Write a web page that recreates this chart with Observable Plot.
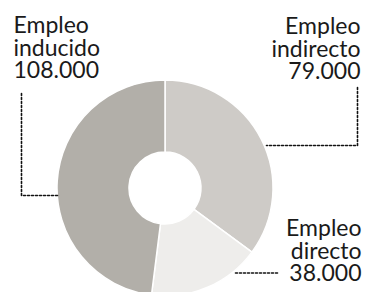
<!DOCTYPE html>
<html>
<head>
<meta charset="utf-8">
<script src="https://cdn.jsdelivr.net/npm/d3@7"></script>
<script src="https://cdn.jsdelivr.net/npm/@observablehq/plot@0.6"></script>
<style>
  html, body { margin: 0; padding: 0; background: #fff; }
  #chart svg { display: block; }
</style>
</head>
<body>
<div id="chart"></div>
<script>
// Data
const categories = ["Empleo indirecto", "Empleo directo", "Empleo inducido"];
const values = [79000, 38000, 108000];
const valueLabels = ["79.000", "38.000", "108.000"];
const colors = ["#cecbc7", "#eeedeb", "#b2afa9"];

// Layout (pixels)
const W = 366, H = 292;
const cx = 165, cy = 188, rOuter = 108, rInner = 36;
const labelPos = [
  {x: 360, y: 17.5, anchor: "end"},
  {x: 361, y: 219.5, anchor: "end"},
  {x: 13, y: 16.7, anchor: "start"}
];
const leaders = [
  [[357, 87], [357, 145], [266, 145]],
  [[235, 272.5], [279, 272.5]],
  [[21, 93], [21, 195], [57, 195]]
];

const table = categories.map((c, i) => ({category: c, value: values[i], label: valueLabels[i], color: colors[i]}));
const pie = d3.pie().sort(null).value(d => d.value)(table);

const labelData = table.map((d, i) => ({
  text: d.category.replace(" ", "\n") + "\n" + d.label,
  ...labelPos[i]
}));
const leaderData = leaders.flatMap((pts, i) => pts.map(([x, y]) => ({x, y, g: i})));

const slices = (index, scales) => {
  const sx = scales.x, sy = scales.y;
  const ox = sx(cx), oy = sy(cy);
  const ro = sx(cx + rOuter) - ox, ri = sx(cx + rInner) - ox;
  const arc = d3.arc().innerRadius(ri).outerRadius(ro);
  const g = d3.create("svg:g").attr("transform", `translate(${ox},${oy})`);
  g.selectAll("path").data(pie).join("path")
    .attr("d", arc)
    .attr("fill", d => d.data.color)
    .attr("stroke", "#fff")
    .attr("stroke-width", 1.5)
    .attr("stroke-linejoin", "round");
  return g.node();
};

const textOpts = anchor => ({
  x: "x", y: "y", text: "text",
  textAnchor: anchor,
  lineAnchor: "top",
  lineHeight: 0.98,
  fontSize: 23,
  fill: "#1a1a1a"
});

const chart = Plot.plot({
  width: W,
  height: H,
  margin: 0,
  x: {domain: [0, W], range: [0, W], axis: null},
  y: {domain: [0, H], range: [0, H], axis: null},
  style: {fontFamily: "Lato, sans-serif", background: "#fff", overflow: "visible"},
  marks: [
    slices,
    Plot.line(leaderData, {x: "x", y: "y", z: "g", stroke: "#111", strokeWidth: 1.6, strokeDasharray: "2,2", curve: "linear"}),
    Plot.text(labelData.filter(d => d.anchor === "start"), textOpts("start")),
    Plot.text(labelData.filter(d => d.anchor === "end"), textOpts("end"))
  ]
});
document.getElementById("chart").appendChild(chart);
</script>
</body>
</html>
